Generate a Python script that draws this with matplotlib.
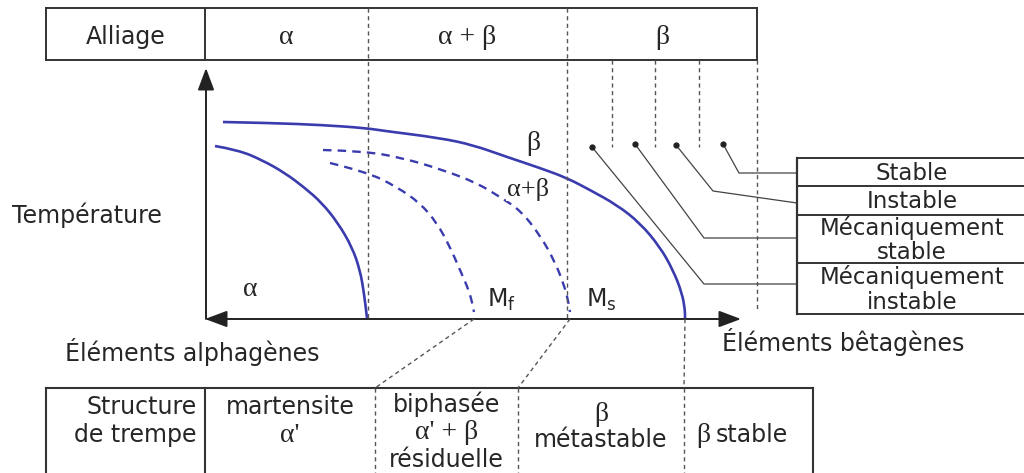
import matplotlib
matplotlib.use("Agg")
import matplotlib.pyplot as plt
from matplotlib.patches import FancyArrowPatch, PathPatch
from matplotlib.path import Path

W, H = 1024, 473

# ---------------- data (pixel units) ----------------
alliage_labels = ["Alliage", "α", "α + β", "β"]
alliage_edges = [46, 205, 368, 567, 757]
alliage_top, alliage_bottom = 8, 60

structure_labels = [["Structure", "de trempe"],
                    ["martensite", "α'"],
                    ["biphasée", "α' + β", "résiduelle"],
                    ["β", "métastable"],
                    ["β stable"]]
structure_edges = [46, 205, 375, 518, 684, 813]
structure_top = 388

stability_labels = [["Stable"], ["Instable"],
                    ["Mécaniquement", "stable"],
                    ["Mécaniquement", "instable"]]
stability_edges = [158, 186, 215, 263, 314]
stability_left = 797

# phase boundaries
alpha_x = [215, 238, 262, 285, 305, 322, 338, 352, 360, 364, 367]
alpha_y = [146, 150, 160, 173, 188, 203, 223, 247, 270, 293, 318]
beta_x = [223, 272, 322, 365, 385, 440, 473, 507, 540, 567, 590, 617, 640, 660, 673, 682, 685, 685]
beta_y = [122, 123, 125, 128, 131, 138, 145, 157, 168, 178, 190, 205, 223, 247, 270, 293, 310, 318]
ms_x = [323, 363, 403, 443, 477, 500, 520, 540, 555, 564, 568, 570]
ms_y = [150, 151, 158, 170, 183, 197, 210, 235, 262, 285, 300, 312]
mf_x = [330, 367, 397, 420, 437, 450, 460, 470, 474]
mf_y = [163, 172, 187, 203, 223, 247, 270, 293, 312]

# leader dots and their broken lines to the stability box
dot_x = [592, 635, 676, 723]
dot_y = [147, 144, 145, 144]
knee_x = [704, 704, 713, 739]
knee_y = [284, 238, 191, 173]
end_y = [284, 238, 203, 173]

# ---------------- styles ----------------
TXT = "#262626"
LINE = "#333333"
BLUE = "#3a3cae"
SANS = ["DejaVu Sans"]
SERIF = ["Liberation Serif", "DejaVu Serif"]
FS = 17
GS = 20
dash_gray = (0, (3, 2.5))
dash_blue = (0, (3.6, 2.6))

fig = plt.figure(figsize=(W / 100, H / 100), dpi=100)
ax = fig.add_axes([0, 0, 1, 1])
ax.set_xlim(0, W)
ax.set_ylim(H, 0)
ax.axis("off")


def is_greek(s):
    return any(ch in "αβ" for ch in s) and not any(ch.isalpha() and ch not in "αβ" for ch in s)


def smooth_curve(xs, ys, **kw):
    """Quadratic B-spline path through the read points (drawn by matplotlib Path)."""
    verts = [(xs[0], ys[0])]
    codes = [Path.MOVETO]
    for i in range(1, len(xs) - 1):
        mid = ((xs[i] + xs[i + 1]) / 2, (ys[i] + ys[i + 1]) / 2)
        verts += [(xs[i], ys[i]), mid]
        codes += [Path.CURVE3, Path.CURVE3]
    verts.append((xs[-1], ys[-1]))
    codes.append(Path.LINETO)
    ax.add_patch(PathPatch(Path(verts, codes), fill=False, **kw))


# ---------------- top table ----------------
x0, x1 = alliage_edges[0], alliage_edges[-1]
ax.plot([x0, x1], [alliage_top, alliage_top], color=LINE, lw=1.4)
ax.plot([x0, x1], [alliage_bottom, alliage_bottom], color=LINE, lw=1.4)
ax.plot([x0, x0], [alliage_top, alliage_bottom], color=LINE, lw=1.4)
ax.plot([x1, x1], [alliage_top, alliage_bottom], color=LINE, lw=1.4)
ax.plot([alliage_edges[1]] * 2, [alliage_top, alliage_bottom], color=LINE, lw=1.4)
for xe in alliage_edges[2:4]:
    ax.plot([xe, xe], [alliage_top, 318], color="#555555", lw=1.0, ls=dash_gray)
ax.plot([x1, x1], [alliage_bottom, 310], color="#555555", lw=1.0, ls=dash_gray)
for xe in [612, 655, 699]:
    ax.plot([xe, xe], [alliage_bottom, 147], color="#555555", lw=1.0, ls=dash_gray)

for i, lab in enumerate(alliage_labels):
    cx = (alliage_edges[i] + alliage_edges[i + 1]) / 2
    if i == 0:
        ax.text(cx, 37, lab, ha="center", va="center", fontsize=FS,
                family=SANS, color=TXT)
    else:
        ax.text(cx, 37, lab, ha="center", va="center", fontsize=GS,
                family=SERIF, color=TXT)

# ---------------- axes ----------------
ax.add_patch(FancyArrowPatch((205, 319), (741, 319),
                             arrowstyle="<|-|>,head_length=0.75,head_width=0.28",
                             mutation_scale=18, lw=1.4, color="#222222",
                             shrinkA=0, shrinkB=0))
ax.add_patch(FancyArrowPatch((206, 319), (206, 68),
                             arrowstyle="-|>,head_length=0.75,head_width=0.28",
                             mutation_scale=18, lw=1.4, color="#222222",
                             shrinkA=0, shrinkB=0))

ax.text(12, 215, "Température", ha="left", va="center", fontsize=FS,
        family=SANS, color=TXT)
ax.text(65, 352, "Éléments alphagènes", ha="left", va="center", fontsize=FS,
        family=SANS, color=TXT)
ax.text(722, 342, "Éléments bêtagènes", ha="left", va="center", fontsize=FS,
        family=SANS, color=TXT)

# ---------------- curves ----------------
smooth_curve(alpha_x, alpha_y, edgecolor=BLUE, lw=1.9)
smooth_curve(beta_x, beta_y, edgecolor=BLUE, lw=1.9)
smooth_curve(ms_x, ms_y, edgecolor=BLUE, lw=1.7, linestyle=dash_blue)
smooth_curve(mf_x, mf_y, edgecolor=BLUE, lw=1.7, linestyle=dash_blue)

ax.text(250, 289, "α", ha="center", va="center", fontsize=GS, family=SERIF, color=TXT)
ax.text(533, 143, "β", ha="center", va="center", fontsize=GS, family=SERIF, color=TXT)
ax.text(528, 189, "α+β", ha="center", va="center", fontsize=GS - 1, family=SERIF,
        color=TXT, bbox=dict(facecolor="white", edgecolor="none", pad=0.3))
ax.text(487, 300, r"M$_\mathregular{f}$", ha="left", va="center", fontsize=FS,
        family=SANS, color=TXT)
ax.text(586, 300, r"M$_\mathregular{s}$", ha="left", va="center", fontsize=FS,
        family=SANS, color=TXT)

# ---------------- leaders to stability box ----------------
for dx, dy, kx, ky, ey in zip(dot_x, dot_y, knee_x, knee_y, end_y):
    ax.plot([dx, kx, stability_left], [dy, ky, ey], color="#444444", lw=0.9)
    ax.plot([dx], [dy], "o", color="#222222", ms=3.5)

# ---------------- stability box ----------------
sx1 = 1040
ax.plot([stability_left, stability_left], [stability_edges[0], stability_edges[-1]],
        color=LINE, lw=1.6)
for ye in stability_edges:
    ax.plot([stability_left, sx1], [ye, ye], color=LINE, lw=1.4)
for i, lines in enumerate(stability_labels):
    ya, yb = stability_edges[i], stability_edges[i + 1]
    n = len(lines)
    for j, ln in enumerate(lines):
        yc = ya + (yb - ya) * (j + 0.5) / n + 1
        ax.text(912, yc, ln, ha="center", va="center", fontsize=FS - 0.5,
                family=SANS, color=TXT)

# ---------------- bottom table ----------------
bx0, bx1 = structure_edges[0], structure_edges[-1]
ax.plot([bx0, bx1], [structure_top, structure_top], color=LINE, lw=1.5)
ax.plot([bx0, bx0], [structure_top, H + 5], color=LINE, lw=1.5)
ax.plot([bx1, bx1], [structure_top, H + 5], color=LINE, lw=1.5)
ax.plot([structure_edges[1]] * 2, [structure_top, H + 5], color=LINE, lw=1.5)
for xe in structure_edges[2:5]:
    ax.plot([xe, xe], [structure_top, H + 5], color="#555555", lw=1.0, ls=dash_gray)

# dashed projections from the axis to the quench-structure table
ax.plot([mf_x[-1], structure_edges[2]], [319, structure_top], color="#555555", lw=1.0, ls=dash_gray)
ax.plot([ms_x[-1], structure_edges[3]], [319, structure_top], color="#555555", lw=1.0, ls=dash_gray)
ax.plot([beta_x[-1], structure_edges[4]], [319, structure_top], color="#555555", lw=1.0, ls=dash_gray)

line_y = {1: [435], 2: [407, 435], 3: [404, 432, 460]}
for i, lines in enumerate(structure_labels):
    cx = (structure_edges[i] + structure_edges[i + 1]) / 2
    ys = line_y[len(lines)]
    if i == 3:
        ys = [414, 440]
    for ln, yy in zip(lines, ys):
        if i == 0:
            ax.text(197, yy, ln, ha="right", va="center", fontsize=FS,
                    family=SANS, color=TXT)
        elif ln == "β stable":
            ax.text(cx - 38, yy, "β", ha="right", va="center", fontsize=GS,
                    family=SERIF, color=TXT)
            ax.text(cx - 33, yy, "stable", ha="left", va="center", fontsize=FS,
                    family=SANS, color=TXT)
        elif is_greek(ln):
            ax.text(cx, yy, ln, ha="center", va="center", fontsize=GS,
                    family=SERIF, color=TXT)
        else:
            ax.text(cx, yy, ln, ha="center", va="center", fontsize=FS,
                    family=SANS, color=TXT)

fig.savefig("out.png", dpi=100)
